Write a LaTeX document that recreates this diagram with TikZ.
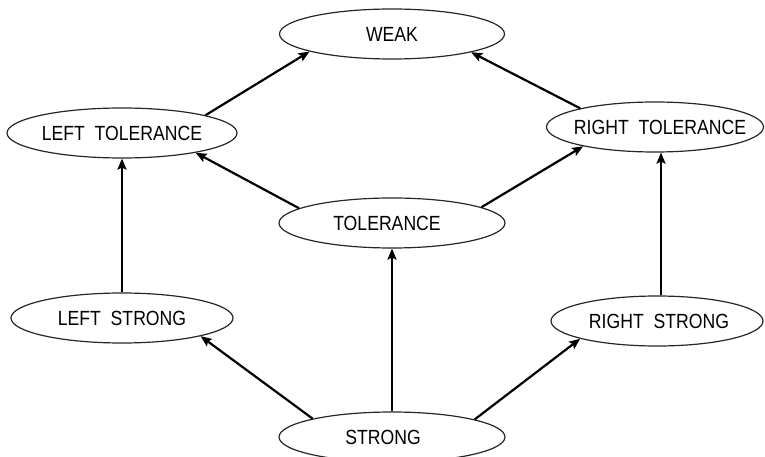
\documentclass[tikz,border=0pt]{standalone}
\usepackage{fontspec}
\setmainfont{Liberation Sans}[FakeStretch=0.86]
\usetikzlibrary{shapes.geometric,arrows.meta}
\newcommand\ctext[2][0pt]{\makebox[0pt]{\kern#1\relax #2}}
\tikzset{
  el/.style={ellipse, draw=black!85, line width=1.2pt, inner sep=0pt,
    minimum height=50pt, font=\fontsize{20.5pt}{24pt}\selectfont},
  arr/.style={line width=2.2pt, -{Stealth[length=11pt,width=9pt,inset=2pt]}}
}
\begin{document}
\begin{tikzpicture}[x=1pt,y=-1pt]
\useasboundingbox (0,0) rectangle (765,457);
\node[el, minimum width=225pt] (weak) at (392,34) {\ctext{WEAK}};
\node[el, minimum width=230pt] (lt) at (122,133) {\ctext{LEFT\ \ TOLERANCE}};
\node[el, minimum width=217pt] (rt) at (655,127) {\ctext[10pt]{RIGHT\ \ TOLERANCE}};
\node[el, minimum width=226pt] (tol) at (392,223) {\ctext[-10pt]{TOLERANCE}};
\node[el, minimum width=222pt] (ls) at (122,318) {\ctext{LEFT\ \ STRONG}};
\node[el, minimum width=212pt] (rs) at (657,321) {\ctext[4pt]{RIGHT\ \ STRONG}};
\node[el, minimum width=226pt] (s) at (392,437) {\ctext[-18pt]{STRONG}};

\draw[arr] (lt.12) -- (weak.-168);
\draw[arr] (rt.166.5) -- (weak.-13.7);
\draw[arr] (tol.171.4) -- (lt.-15.8);
\draw[arr] (tol.10) -- (rt.-165.6);
\draw[arr] (ls) -- (lt);
\draw[arr] ([xshift=4pt]rs.north) -- ([xshift=4pt]rs.north |- rt.south);
\draw[arr] (s) -- (tol);
\draw[arr] (s.167.5) -- (ls.-13);
\draw[arr] (s.12.4) -- (rs.-167.5);
\end{tikzpicture}
\end{document}
